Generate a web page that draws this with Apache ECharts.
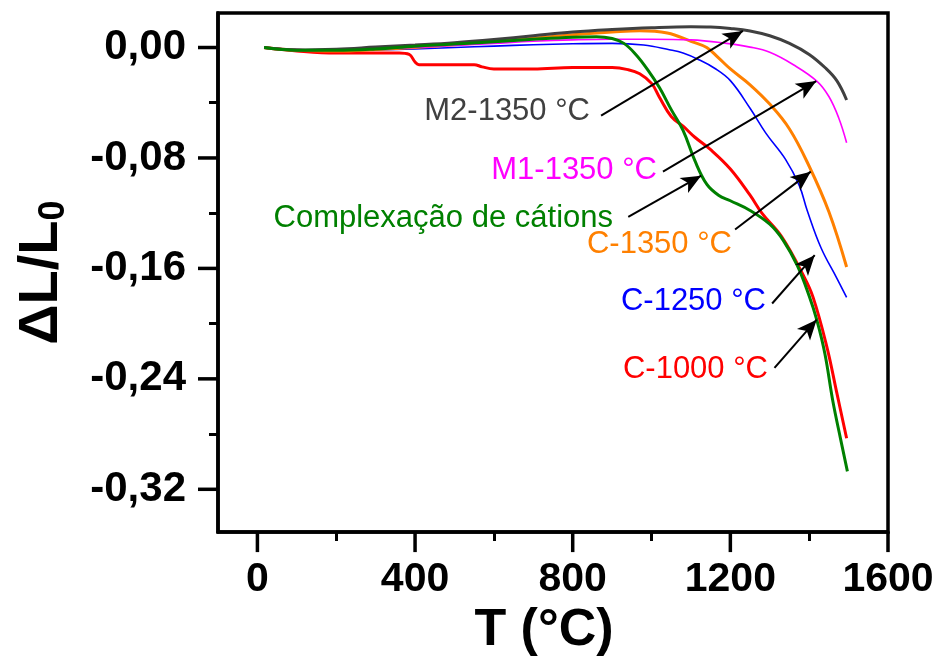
<!DOCTYPE html>
<html>
<head>
<meta charset="utf-8">
<script src="https://cdn.jsdelivr.net/npm/echarts@6/dist/echarts.min.js"></script>
<style>html,body{margin:0;padding:0;background:#fff}#c{width:938px;height:662px}</style>
</head>
<body>
<div id="c"></div>
<script>
// ---- Data (T in °C, ΔL/L0) ----
const tM2 = [17,100,200,300,400,500,600,700,800,900,1000,1100,1150,1200,1250,1300,1350,1400,1440,1470,1495];
const vM2 = [0,-0.0018,-0.0012,0.0003,0.0018,0.0035,0.0058,0.0085,0.0112,0.013,0.0143,0.015,0.0148,0.0138,0.012,0.0085,0.003,-0.005,-0.0145,-0.024,-0.038];

const tM1 = [17,100,200,300,400,500,600,700,800,900,1000,1100,1190,1250,1300,1360,1420,1450,1475,1495];
const vM1 = [0,-0.0015,-0.002,-0.001,0,0.0015,0.003,0.0045,0.0055,0.006,0.006,0.0055,0.003,0.0003,-0.0035,-0.0125,-0.0245,-0.0355,-0.051,-0.069];

const tC1350 = [17,100,200,300,400,500,600,700,800,900,970,1040,1100,1140,1170,1200,1250,1300,1350,1400,1450,1495];
const vC1350 = [0,-0.002,-0.0025,-0.0015,0,0.002,0.0042,0.0068,0.0092,0.0112,0.0122,0.0105,0.0045,0,-0.0075,-0.0155,-0.027,-0.041,-0.059,-0.086,-0.119,-0.159];

const tC1250 = [17,100,200,300,400,500,600,700,800,900,980,1045,1080,1120,1160,1200,1250,1290,1340,1375,1395,1430,1470,1495];
const vC1250 = [0,-0.0015,-0.0022,-0.0018,-0.001,0,0.001,0.002,0.0027,0.003,0.0018,-0.0016,-0.004,-0.0088,-0.015,-0.024,-0.044,-0.062,-0.081,-0.100,-0.118,-0.145,-0.167,-0.181];

const tC1000 = [17,100,200,300,360,385,400,410,550,570,600,700,800,900,940,970,1000,1020,1050,1080,1110,1150,1200,1250,1280,1330,1385,1410,1445,1470,1495];
const vC1000 = [0,-0.0025,-0.004,-0.004,-0.004,-0.005,-0.0105,-0.0124,-0.0124,-0.014,-0.0155,-0.0155,-0.0145,-0.0145,-0.016,-0.019,-0.026,-0.036,-0.050,-0.057,-0.065,-0.074,-0.088,-0.107,-0.120,-0.137,-0.165,-0.181,-0.217,-0.250,-0.283];

const tComp = [17,100,200,300,400,500,600,700,800,860,900,930,960,990,1020,1050,1080,1110,1140,1170,1200,1250,1300,1335,1370,1400,1420,1440,1460,1480,1497];
const vComp = [0,-0.002,-0.002,-0.001,0.001,0.0025,0.0042,0.006,0.0075,0.0078,0.0065,0.003,-0.005,-0.016,-0.029,-0.045,-0.060,-0.082,-0.099,-0.107,-0.111,-0.118,-0.128,-0.140,-0.158,-0.180,-0.198,-0.222,-0.256,-0.284,-0.307];

// ---- Axis ranges and tick labels ----
const X_MIN = -100, X_MAX = 1600;
const Y_MIN = -0.351, Y_MAX = 0.025;
const xMajor = [0,400,800,1200,1600];
const xMinor = [200,600,1000,1400];
const yMajor = [0,-0.08,-0.16,-0.24,-0.32];
const yMinor = [-0.04,-0.12,-0.20,-0.28];

// annotation arrows: [startT, startV, tipT, tipV]
const arrows = [
  [872,-0.0494,1232,0.0120],
  [1029,-0.0899,1418,-0.0243],
  [941,-0.1227,1126,-0.0928],
  [1212,-0.1318,1404,-0.0899],
  [1306,-0.1854,1414,-0.1504],
  [1312,-0.2320,1419,-0.1971]
];
const labels = ['M2-1350 °C','M1-1350 °C','Complexação de cátions','C-1350 °C','C-1250 °C','C-1000 °C'];

function zip(t,v){return t.map((x,i)=>[x,v[i]]);}

const FONT = "'Liberation Sans', Arial, sans-serif";
const chart = echarts.init(document.getElementById('c'), null, {renderer:'canvas'});

function lineSeries(name, t, v, color, width){
  return {type:'line', name, data: zip(t,v), showSymbol:false, smooth:0.4,
    lineStyle:{color, width}, itemStyle:{color}, silent:true, z:2, xAxisIndex:0, yAxisIndex:0};
}

// helper axis: minor ticks only
function helperAxis(isX, tickVals, len, width){
  return {
    type:'value', position: isX ? 'bottom' : 'left',
    min: isX ? X_MIN : Y_MIN, max: isX ? X_MAX : Y_MAX,
    axisLine:{show:false, onZero:false}, splitLine:{show:false}, axisLabel:{show:false},
    axisTick:{show:true, inside:false, length:len, customValues: tickVals, lineStyle:{color:'#000', width}}
  };
}

const annotationText = [
  {x:590, y:111, color:'#404040'},
  {x:657, y:170, color:'#ff00ff'},
  {x:613, y:218, color:'#008000'},
  {x:732, y:244, color:'#ff8000'},
  {x:766, y:301, color:'#0000ff'},
  {x:768, y:369, color:'#ff0000'}
].map((p,i)=>({type:'text', x:p.x, y:p.y, z:20,
  style:{text:labels[i], fill:p.color, font:'31px '+FONT, textAlign:'right', textVerticalAlign:'middle'}}));

chart.setOption({
  animation:false,
  backgroundColor:'#fff',
  grid:{left:218, right:50, top:13, bottom:124, show:true, borderColor:'#000', borderWidth:3.5, backgroundColor:'transparent'},
  xAxis:[{
    type:'value', position:'bottom', min:X_MIN, max:X_MAX,
    axisLine:{show:true, onZero:false, lineStyle:{color:'#000', width:3.5}},
    axisTick:{show:false},
    axisLabel:{customValues:xMajor, color:'#000', fontSize:41, fontWeight:'bold', fontFamily:FONT, margin:27, formatter: v => String(v)},
    splitLine:{show:false},
    name:'T (°C)', nameLocation:'middle', nameGap:66,
    nameTextStyle:{color:'#000', fontSize:52, fontWeight:'bold', fontFamily:FONT, padding:[0,18,0,0]}
  }, helperAxis(true, xMinor, 9, 3)],
  yAxis:[{
    type:'value', position:'left', min:Y_MIN, max:Y_MAX,
    axisLine:{show:true, onZero:false, lineStyle:{color:'#000', width:3.5}},
    axisTick:{show:false},
    axisLabel:{customValues:yMajor, color:'#000', fontSize:42, fontWeight:'bold', fontFamily:FONT, margin:32, formatter: v => v.toFixed(2).replace('.',',')},
    splitLine:{show:false},
    name:'{a|ΔL/L}{b|0}', nameLocation:'middle', nameGap:146,
    nameTextStyle:{color:'#000', fontFamily:FONT, fontWeight:'bold',
      rich:{a:{fontSize:56, fontWeight:'bold', fontFamily:FONT, color:'#000', lineHeight:60},
            b:{fontSize:36, fontWeight:'bold', fontFamily:FONT, color:'#000', verticalAlign:'bottom', lineHeight:36, padding:[18,0,0,0]}}}
  }, helperAxis(false, yMinor, 9, 3)],
  series:[
    lineSeries('C-1000 °C', tC1000, vC1000, '#ff0000', 3),
    lineSeries('C-1250 °C', tC1250, vC1250, '#0000ff', 1.6),
    lineSeries('C-1350 °C', tC1350, vC1350, '#ff8000', 3),
    lineSeries('M1-1350 °C', tM1, vM1, '#ff00ff', 1.6),
    lineSeries('M2-1350 °C', tM2, vM2, '#404040', 3),
    lineSeries('Complexação de cátions', tComp, vComp, '#008000', 3),
    {type:'line', name:'arrows', data:[], silent:true, z:5, xAxisIndex:0, yAxisIndex:0,
     markLine:{silent:true, symbol:['none','arrow'], symbolSize:[13,20], animation:false,
       label:{show:false}, emphasis:{disabled:true},
       lineStyle:{color:'#000', width:2, type:'solid'},
       data: arrows.map(a=>[{coord:[a[0],a[1]]},{coord:[a[2],a[3]]}])}}
  ],
  graphic: annotationText
});

// Major ticks: positions obtained from the axis scales, drawn outside the frame
const TICK_LEN = 20;
const majorTicks = [];
xMajor.forEach(v => {
  const p = chart.convertToPixel({xAxisIndex:0, yAxisIndex:0}, [v, Y_MIN]);
  majorTicks.push({type:'line', z:30, silent:true,
    shape:{x1:p[0], y1:p[1], x2:p[0], y2:p[1] + TICK_LEN},
    style:{stroke:'#000', lineWidth:3.5}});
});
yMajor.forEach(v => {
  const p = chart.convertToPixel({xAxisIndex:0, yAxisIndex:0}, [X_MIN, v]);
  majorTicks.push({type:'line', z:30, silent:true,
    shape:{x1:p[0] - TICK_LEN, y1:p[1], x2:p[0], y2:p[1]},
    style:{stroke:'#000', lineWidth:3.5}});
});
chart.setOption({graphic: annotationText.concat(majorTicks)}, {replaceMerge:['graphic']});
</script>
</body>
</html>
